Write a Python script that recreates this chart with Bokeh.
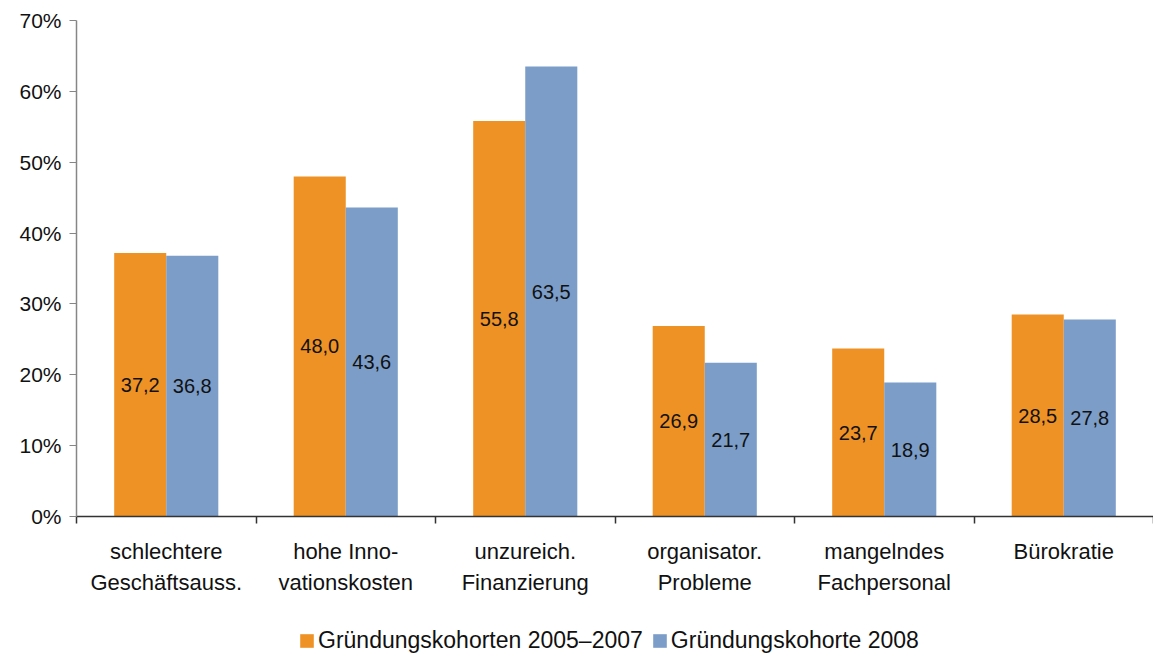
from bokeh.plotting import figure
from bokeh.models import (Range1d, FixedTicker, ColumnDataSource, Legend, LegendItem,
                          LinearAxis)
from bokeh.layouts import column
from bokeh.embed import file_html
from bokeh.resources import INLINE
from bokeh.core.properties import value
import numpy as np

categories = ["schlechtere\nGeschäftsauss.", "hohe Inno-\nvationskosten", "unzureich.\nFinanzierung",
              "organisator.\nProbleme", "mangelndes\nFachpersonal", "Bürokratie"]
series_names = ["Gründungskohorten 2005–2007", "Gründungskohorte 2008"]
values_2005_2007 = [37.2, 48.0, 55.8, 26.9, 23.7, 28.5]
values_2008 = [36.8, 43.6, 63.5, 21.7, 18.9, 27.8]
y_ticks = [0, 10, 20, 30, 40, 50, 60, 70]

ORANGE = "#EE9226"
BLUE = "#7B9DC8"
FONT = "Liberation Sans"

n = len(categories)
bw = 0.29
idx = np.arange(n) + 0.5

p = figure(width=1153, height=624, output_backend="svg", toolbar_location=None,
           x_range=Range1d(0, n), y_range=Range1d(0, 70),
           min_border_left=76, min_border_top=20, min_border_right=0, min_border_bottom=108,
           x_axis_location=None)
p.outline_line_color = None
p.grid.visible = False
p.background_fill_color = "white"
p.border_fill_color = "white"

src1 = ColumnDataSource(dict(x=idx - bw / 2, top=values_2005_2007, ymid=[v / 2 for v in values_2005_2007],
                             lab=[f"{v:.1f}".replace(".", ",") for v in values_2005_2007]))
src2 = ColumnDataSource(dict(x=idx + bw / 2, top=values_2008, ymid=[v / 2 for v in values_2008],
                             lab=[f"{v:.1f}".replace(".", ",") for v in values_2008]))

r1 = p.vbar(x="x", top="top", width=bw, bottom=0, source=src1, fill_color=ORANGE, line_color=None)
r2 = p.vbar(x="x", top="top", width=bw, bottom=0, source=src2, fill_color=BLUE, line_color=None)

for s in (src1, src2):
    p.text(x="x", y="ymid", text="lab", source=s, text_align="center", text_baseline="middle",
           text_font=value(FONT), text_font_size="20px", text_color="#111111")

# y axis
ya = p.yaxis[0]
ya.ticker = FixedTicker(ticks=y_ticks)
ya.major_label_overrides = {t: f"{t}%" for t in y_ticks}
ya.major_label_text_font = FONT
ya.major_label_text_font_size = "21px"
ya.major_label_text_color = "#111111"
ya.axis_line_color = "#868686"
ya.axis_line_width = 1.5
ya.major_tick_line_color = "#868686"
ya.major_tick_in = 0
ya.major_tick_out = 7
ya.minor_tick_line_color = None
ya.major_label_standoff = 8

# x axis
xa = LinearAxis(ticker=FixedTicker(ticks=list(idx), minor_ticks=list(range(n + 1))))
xa.major_label_overrides = {float(c): lab for c, lab in zip(idx, categories)}
xa.major_label_text_font = FONT
xa.major_label_text_font_size = "22px"
xa.major_label_text_color = "#111111"
xa.major_label_text_line_height = 1.25
xa.major_tick_line_color = None
xa.major_tick_out = 7
xa.major_tick_in = 0
xa.minor_tick_line_color = "#333333"
xa.minor_tick_in = 0
xa.minor_tick_out = 7
xa.minor_tick_line_width = 1.5
xa.axis_line_color = "#333333"
xa.axis_line_width = 1.5
xa.major_label_standoff = 15
p.add_layout(xa, "below")

# legend strip below the chart (swatch renderers sit outside the visible range)
p2 = figure(width=1153, height=33, output_backend="svg", toolbar_location=None,
            x_range=Range1d(0, 1), y_range=Range1d(0, 1),
            min_border_left=0, min_border_top=0, min_border_right=0, min_border_bottom=0,
            x_axis_location=None, y_axis_location=None)
p2.outline_line_color = None
p2.grid.visible = False
p2.border_fill_color = "white"
l1 = p2.vbar(x=[-5], top=[-5], bottom=[-6], width=0.1, fill_color=ORANGE, line_color=None)
l2 = p2.vbar(x=[-5], top=[-5], bottom=[-6], width=0.1, fill_color=BLUE, line_color=None)

legend = Legend(items=[LegendItem(label=series_names[0], renderers=[l1]),
                       LegendItem(label=series_names[1], renderers=[l2])],
                orientation="horizontal", location=(222, 3),
                label_text_font=FONT, label_text_font_size="23px", label_text_color="#111111",
                glyph_width=17, glyph_height=17, label_standoff=3, spacing=8,
                border_line_color=None, background_fill_alpha=0, padding=0, margin=0)
p2.add_layout(legend)

layout = column(p, p2, spacing=0)
open("out.html", "w").write(file_html(layout, INLINE))
